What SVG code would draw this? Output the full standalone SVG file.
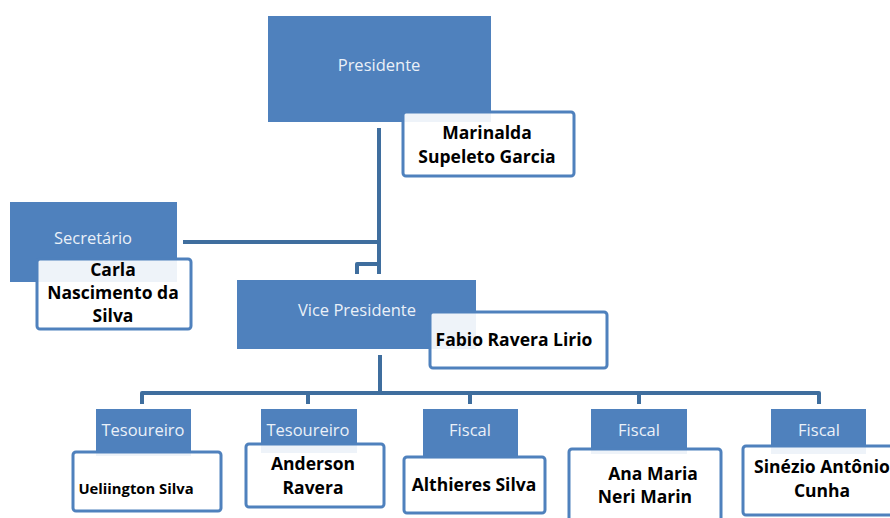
<svg xmlns="http://www.w3.org/2000/svg" width="890" height="518" viewBox="0 0 890 518">
<style>
.role{fill:#4F81BD}
.rt{fill:#EAF0F8;font-family:"Open Sans","Liberation Sans",sans-serif;font-size:16.5px;text-anchor:middle}
.nb{fill:#FFFFFF;fill-opacity:0.9;stroke:#4F81BD;stroke-width:3}
.nt{fill:#000;font-family:"Open Sans","Liberation Sans",sans-serif;font-weight:bold;font-size:17.5px;text-anchor:middle}
.cn{fill:none;stroke:#3F6E9E;stroke-width:4;stroke-linejoin:round}
</style>
<rect width="890" height="518" fill="#FFFFFF"/>
<g id="connectors">
<path class="cn" d="M379 128 V274"/>
<path class="cn" d="M183 242 H379"/>
<path class="cn" d="M379 264 H357 V274"/>
<path class="cn" d="M380 355 V393"/>
<path class="cn" d="M142 404 V393 H819 V404"/>
<path class="cn" d="M308 393 V404"/>
<path class="cn" d="M470 393 V404"/>
<path class="cn" d="M639 393 V404"/>
</g>
<g id="presidente">
<rect class="role" x="268" y="16" width="223" height="106"/>
<text class="rt" x="379" y="71">Presidente</text>
<rect class="nb" x="403" y="112" width="171" height="64" rx="3"/>
<text class="nt" x="487" y="139">Marinalda</text>
<text class="nt" x="487" y="163">Supeleto Garcia</text>
</g>
<g id="secretario">
<rect class="role" x="10" y="202" width="167" height="80"/>
<text class="rt" x="93" y="244">Secretário</text>
<rect class="nb" x="37" y="259" width="154" height="70" rx="3"/>
<text class="nt" x="113" y="276">Carla</text>
<text class="nt" x="113" y="299">Nascimento da</text>
<text class="nt" x="113" y="322">Silva</text>
</g>
<g id="vice-presidente">
<rect class="role" x="237" y="280" width="239" height="69"/>
<text class="rt" x="357" y="316">Vice Presidente</text>
<rect class="nb" x="430" y="312" width="177" height="56" rx="3"/>
<text class="nt" x="514" y="346">Fabio Ravera Lirio</text>
</g>
<g id="tesoureiro-1">
<rect class="role" x="96" y="409" width="95" height="47"/>
<text class="rt" x="143" y="436">Tesoureiro</text>
<rect class="nb" x="73" y="452" width="148" height="59" rx="3"/>
<text class="nt" x="136" y="494" style="font-size:14.8px">Ueliington Silva</text>
</g>
<g id="tesoureiro-2">
<rect class="role" x="261" y="409" width="96" height="44"/>
<text class="rt" x="308" y="436">Tesoureiro</text>
<rect class="nb" x="246" y="444" width="138" height="63" rx="3"/>
<text class="nt" x="313" y="470">Anderson</text>
<text class="nt" x="313" y="494">Ravera</text>
</g>
<g id="fiscal-1">
<rect class="role" x="423" y="409" width="95" height="50"/>
<text class="rt" x="470" y="436">Fiscal</text>
<rect class="nb" x="404" y="457" width="141" height="56" rx="3"/>
<text class="nt" x="474" y="491">Althieres Silva</text>
</g>
<g id="fiscal-2">
<rect class="role" x="591" y="409" width="96" height="45"/>
<text class="rt" x="639" y="436">Fiscal</text>
<rect class="nb" x="569" y="449" width="152" height="75" rx="3"/>
<text class="nt" x="653" y="480">Ana Maria</text>
<text class="nt" x="645" y="503">Neri Marin</text>
</g>
<g id="fiscal-3">
<rect class="role" x="771" y="409" width="95" height="45"/>
<text class="rt" x="819" y="436">Fiscal</text>
<rect class="nb" x="743" y="446" width="160" height="69" rx="3"/>
<text class="nt" x="822" y="473">Sinézio Antônio</text>
<text class="nt" x="822" y="497">Cunha</text>
</g>
</svg>
